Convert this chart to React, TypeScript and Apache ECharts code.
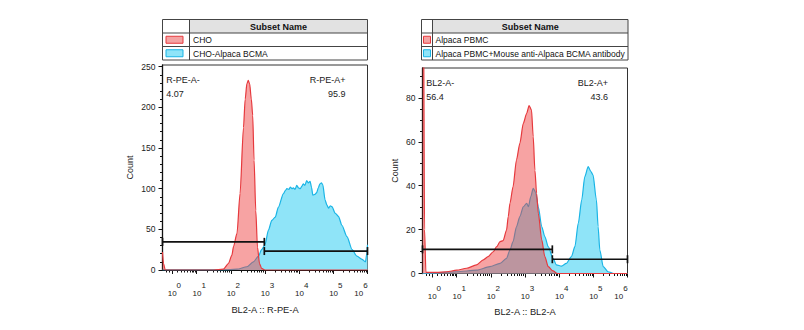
import React, { useEffect, useRef } from "react";
import * as echarts from "echarts";

const FONT = "'Liberation Sans', Arial, Helvetica, sans-serif";
const TEXT = "#222";

// ---- display-scale ticks (10^k at position k; logicle-compressed near zero)
const decadeExponents = ["0", "1", "2", "3", "4", "5", "6"];
const decadePositions = [0.275, 1, 2, 3, 4, 5, 6];
const lowMinorPositions = [0.1, 0.19, 0.42, 0.55, 0.65, 0.73, 0.8, 0.86, 0.91, 0.96];

const leftYTicks = [0, 50, 100, 150, 200, 250];
const leftYMinor = [10, 20, 30, 40, 60, 70, 80, 90, 110, 120, 130, 140, 160, 170, 180, 190, 210, 220, 230, 240];
const rightYTicks = [0, 20, 40, 60, 80];
const rightYMinor = [5, 10, 15, 25, 30, 35, 45, 50, 55, 65, 70, 75, 85, 90];

const xTitles = ["BL2-A :: R-PE-A", "BL2-A :: BL2-A"];
const yTitle = "Count";
const tableHeader = "Subset Name";
const leftNames = ["CHO", "CHO-Alpaca BCMA"];
const rightNames = ["Alpaca PBMC", "Alpaca PBMC+Mouse anti-Alpaca BCMA antibody"];

// ---- left panel histograms (x on display scale, y = count)
const choU = [0, 0.03, 0.08, 0.5, 1.0, 1.5, 1.78, 1.93, 2.03, 2.08, 2.18, 2.27, 2.37, 2.42, 2.47, 2.51, 2.55, 2.6, 2.64, 2.68, 2.73, 2.78, 2.84, 2.9, 3.0, 4.0, 5.0, 6.0];
const choCount = [22, 8, 0, 0, 0, 0, 1, 8, 18, 29, 45, 94, 175, 210, 229, 233, 229, 210, 190, 135, 73, 28, 8, 2, 0, 0, 0, 0];

const bcmaU = [0, 1.5, 1.78, 2.18, 2.47, 2.66, 2.81, 2.9, 3.0, 3.1, 3.2, 3.3, 3.39, 3.54, 3.6, 3.64, 3.7, 3.74, 3.79, 3.83, 3.88, 3.93, 3.98, 4.03, 4.08, 4.12, 4.17, 4.22, 4.27, 4.32, 4.36, 4.4, 4.46, 4.51, 4.56, 4.61, 4.65, 4.69, 4.76, 4.81, 4.86, 4.91, 4.96, 5.05, 5.15, 5.25, 5.4, 5.55, 5.69, 5.84, 5.94, 5.98, 6.0];
const bcmaCount = [0, 0, 0, 1, 4, 10, 17, 25, 31, 49, 61, 65, 77, 94, 98, 100, 99, 102, 100, 101, 99, 104, 101, 100, 103, 106, 104, 110, 107, 109, 102, 92, 93, 95, 101, 106, 107, 105, 86, 80, 76, 79, 78, 70, 66, 55, 41, 25, 17, 13, 10, 20, 31];

// ---- right panel histograms
const pbmcU = [0, 0.03, 0.06, 0.1, 0.4, 0.71, 1.0, 1.29, 1.58, 1.78, 1.92, 2.07, 2.17, 2.27, 2.36, 2.46, 2.51, 2.56, 2.65, 2.75, 2.85, 2.95, 3.05, 3.12, 3.19, 3.24, 3.29, 3.34, 3.39, 3.49, 3.58, 3.68, 3.82, 3.95, 6.0];
const pbmcCount = [200, 120, 20, 0.5, 0.5, 0.8, 1.5, 2.4, 3.9, 6.2, 7.7, 9.9, 12.2, 14.5, 15, 19.8, 25.9, 32, 39.5, 51.7, 59.3, 68.4, 73, 76.5, 74.5, 62.3, 47, 36.5, 27.4, 15.3, 7.7, 3.1, 1.2, 0, 0];

const antibodyU = [0, 0.1, 1.0, 1.58, 1.97, 2.27, 2.46, 2.56, 2.65, 2.75, 2.85, 2.95, 3.05, 3.1, 3.17, 3.24, 3.31, 3.39, 3.49, 3.58, 3.68, 3.82, 3.92, 4.07, 4.21, 4.36, 4.46, 4.56, 4.66, 4.75, 4.85, 4.93, 4.99, 5.09, 5.14, 5.19, 5.29, 5.43, 5.6, 6.0];
const antibodyCount = [0, 0, 0.8, 1.5, 3.1, 4.6, 6.9, 10.7, 14.5, 21.3, 25.9, 30.4, 32, 30.4, 35, 38.8, 37, 30.4, 21.3, 16.8, 12.2, 6.9, 3.9, 3.4, 4.6, 7.7, 12.2, 22.9, 33.5, 44.1, 48.7, 46.4, 44.9, 33.5, 21.3, 10.7, 3.1, 0.8, 0, 0];

// ---- gates
const leftGateNames = ["R-PE-A-", "R-PE-A+"];
const leftGatePct = ["4.07", "95.9"];
const leftGateFrom = [0, 2.98];
const leftGateTo = [2.98, 6];
const leftGateLevel = [34.6, 23.3];

const rightGateNames = ["BL2-A-", "BL2-A+"];
const rightGatePct = ["56.4", "43.6"];
const rightGateFrom = [0, 3.8];
const rightGateTo = [3.8, 6];
const rightGateLevel = [11.0, 6.5];

// colours
const RED_LINE = "#e6393d";
const RED_FILL = "rgba(238,62,62,0.48)";
const RED_SWATCH = "#f4a3a3";
const CYAN_LINE = "#19b4e5";
const CYAN_FILL = "#8fe4f8";

const zip = (xs: number[], ys: number[]) => xs.map((x, i) => [x, ys[i]]);

const decadeMinor: number[] = [];
for (let k = 1; k <= 5; k++) for (let m = 2; m <= 9; m++) decadeMinor.push(k + Math.log10(m));
const xMinor = [...lowMinorPositions, ...decadeMinor];

const labelFormatter = (v: number) => {
  const i = decadePositions.findIndex((p) => Math.abs(p - v) < 1e-6);
  if (i < 0) return "";
  const e = decadeExponents[i];
  return i === decadePositions.length - 1 ? `{a|10}{e|${e}}{t|}` : `{l|}{a|10}{e|${e}}`;
};

const panels = [
  { left: 162.5, top: 65, width: 205, height: 205, yMax: 252, yTicks: leftYTicks, yMinor: leftYMinor, title: xTitles[0], nameGapX: 35, nameGapY: 28 },
  { left: 422.5, top: 68, width: 205, height: 205.5, yMax: 93.6, yTicks: rightYTicks, yMinor: rightYMinor, title: xTitles[1], nameGapX: 33.5, nameGapY: 23 },
];

function buildAxes() {
  const xAxis: any[] = [];
  const yAxis: any[] = [];
  panels.forEach((p, gi) => {
    xAxis.push({
      type: "value", gridIndex: gi, min: 0, max: 6, position: "bottom",
      axisLine: { show: true, onZero: false, lineStyle: { color: "#111", width: 1 } },
      axisTick: { show: true, customValues: decadePositions, length: 4, lineStyle: { color: "#111" } },
      axisLabel: {
        show: true, customValues: decadePositions, formatter: labelFormatter, margin: 11, color: TEXT,
        rich: {
          a: { fontSize: 8, fontFamily: FONT, color: TEXT, verticalAlign: "bottom" },
          e: { fontSize: 8, fontFamily: FONT, color: TEXT, verticalAlign: "bottom", padding: [0, 0, 8, 0] },
          l: { width: 5 },
          t: { width: 13 },
        },
      },
      splitLine: { show: false },
      name: p.title, nameLocation: "middle", nameGap: p.nameGapX,
      nameTextStyle: { fontSize: 9.3, fontFamily: FONT, color: TEXT },
    });
    xAxis.push({
      type: "value", gridIndex: gi, min: 0, max: 6, position: "bottom",
      axisLine: { show: false, onZero: false },
      axisTick: { show: true, customValues: xMinor, length: 2.5, lineStyle: { color: "#111" } },
      axisLabel: { show: false },
      splitLine: { show: false },
    });
    yAxis.push({
      type: "value", gridIndex: gi, min: 0, max: p.yMax, position: "left",
      axisLine: { show: true, onZero: false, lineStyle: { color: "#111", width: 1.3 } },
      axisTick: { show: true, customValues: p.yTicks, length: 4, lineStyle: { color: "#111" } },
      axisLabel: { show: true, customValues: p.yTicks, margin: 7, fontSize: 8.5, fontFamily: FONT, color: TEXT },
      splitLine: { show: false },
      name: yTitle, nameLocation: "middle", nameGap: p.nameGapY, nameRotate: 90,
      nameTextStyle: { fontSize: 9, fontFamily: FONT, color: TEXT },
    });
    yAxis.push({
      type: "value", gridIndex: gi, min: 0, max: p.yMax, position: "left",
      axisLine: { show: false, onZero: false },
      axisTick: { show: true, customValues: p.yMinor, length: 2.5, lineStyle: { color: "#111" } },
      axisLabel: { show: false },
      splitLine: { show: false },
    });
  });
  return { xAxis, yAxis };
}

function histSeries(gi: number, name: string, data: number[][], red: boolean) {
  return {
    type: "line", name, xAxisIndex: gi * 2, yAxisIndex: gi * 2, data,
    symbol: "none", showSymbol: false, smooth: 0.25, smoothMonotone: "x",
    lineStyle: { color: red ? RED_LINE : CYAN_LINE, width: 1.2 },
    areaStyle: { color: red ? RED_FILL : CYAN_FILL, opacity: 1 },
    z: red ? 3 : 2, silent: true,
  };
}

function gateSeries(gi: number, from: number[], to: number[], level: number[]) {
  return {
    type: "custom", xAxisIndex: gi * 2, yAxisIndex: gi * 2, z: 10, silent: true, clip: false,
    data: from.map((f, i) => [f, to[i], level[i]]),
    encode: { x: [0, 1], y: 2 },
    renderItem: (_params: any, api: any) => {
      const a = api.coord([api.value(0), api.value(2)]);
      const b = api.coord([api.value(1), api.value(2)]);
      const st = { stroke: "#111", lineWidth: 1.7 };
      return {
        type: "group",
        children: [
          { type: "line", shape: { x1: a[0], y1: a[1], x2: b[0], y2: b[1] }, style: st },
          { type: "line", shape: { x1: a[0], y1: a[1] - 4, x2: a[0], y2: a[1] + 4 }, style: st },
          { type: "line", shape: { x1: b[0], y1: b[1] - 4, x2: b[0], y2: b[1] + 4 }, style: st },
        ],
      };
    },
  };
}

function legendTable(x0: number, x1: number, div: number, names: string[], swX: number, swW: number, swH: number, textX: number) {
  const rows = [19.5, 33, 46.5, 60];
  const els: any[] = [];
  els.push({ type: "rect", shape: { x: div, y: rows[0], width: x1 - div, height: rows[1] - rows[0] }, style: { fill: "#e2e2e2" } });
  els.push({ type: "rect", shape: { x: x0, y: rows[0], width: x1 - x0, height: rows[3] - rows[0] }, style: { fill: "none", stroke: "#444", lineWidth: 1 } });
  els.push({ type: "line", shape: { x1: x0, y1: rows[1], x2: x1, y2: rows[1] }, style: { stroke: "#444", lineWidth: 1 } });
  els.push({ type: "line", shape: { x1: x0, y1: rows[2], x2: x1, y2: rows[2] }, style: { stroke: "#444", lineWidth: 1 } });
  els.push({ type: "line", shape: { x1: div, y1: rows[0], x2: div, y2: rows[3] }, style: { stroke: "#444", lineWidth: 1 } });
  els.push({
    type: "text", x: (div + x1) / 2, y: (rows[0] + rows[1]) / 2 + 0.5,
    style: { text: tableHeader, fontSize: 9, fontWeight: "bold", fontFamily: FONT, fill: "#111", align: "center", verticalAlign: "middle" },
  });
  names.forEach((n, i) => {
    const cy = (rows[i + 1] + rows[i + 2]) / 2;
    const red = i === 0;
    els.push({
      type: "rect", shape: { x: swX, y: cy - swH / 2, width: swW, height: swH },
      style: { fill: red ? RED_SWATCH : CYAN_FILL, stroke: red ? RED_LINE : CYAN_LINE, lineWidth: 1 },
    });
    els.push({
      type: "text", x: textX, y: cy + 0.5,
      style: { text: n, fontSize: 8.5, fontFamily: FONT, fill: "#111", align: "left", verticalAlign: "middle" },
    });
  });
  return els;
}

function gateLabels(p: any, names: string[], pct: string[], rightInset: number) {
  const els: any[] = [];
  const xl = p.left + 3.7;
  const xr = p.left + p.width - rightInset;
  const y1 = p.top + 15;
  const y2 = p.top + 28.5;
  const st = { fontSize: 9, fontFamily: FONT, fill: TEXT, verticalAlign: "middle" };
  els.push({ type: "text", x: xl, y: y1, style: { ...st, text: names[0], align: "left" } });
  els.push({ type: "text", x: xl, y: y2, style: { ...st, text: pct[0], align: "left" } });
  els.push({ type: "text", x: xr, y: y1, style: { ...st, text: names[1], align: "right" } });
  els.push({ type: "text", x: xr, y: y2, style: { ...st, text: pct[1], align: "right" } });
  return els;
}

export default function App() {
  const ref = useRef<HTMLDivElement>(null);
  useEffect(() => {
    const chart = echarts.init(ref.current!, null, { renderer: "svg" });
    const { xAxis, yAxis } = buildAxes();
    const option: any = {
      animation: false,
      backgroundColor: "#fff",
      grid: panels.map((p) => ({
        left: p.left, top: p.top, width: p.width, height: p.height,
        show: true, borderColor: "#333", borderWidth: 1, backgroundColor: "transparent",
      })),
      xAxis,
      yAxis,
      series: [
        histSeries(0, leftNames[1], zip(bcmaU, bcmaCount), false),
        histSeries(0, leftNames[0], zip(choU, choCount), true),
        gateSeries(0, leftGateFrom, leftGateTo, leftGateLevel),
        histSeries(1, rightNames[1], zip(antibodyU, antibodyCount), false),
        histSeries(1, rightNames[0], zip(pbmcU, pbmcCount), true),
        gateSeries(1, rightGateFrom, rightGateTo, rightGateLevel),
      ],
      graphic: [
        ...legendTable(162.5, 367.5, 189.5, leftNames, 166, 17, 7, 193),
        ...legendTable(421.5, 628, 432.5, rightNames, 423.5, 7, 7, 435.5),
        ...gateLabels(panels[0], leftGateNames, leftGatePct, 22),
        ...gateLabels(panels[1], rightGateNames, rightGatePct, 19.5),
      ],
    };
    chart.setOption(option);
    return () => chart.dispose();
  }, []);
  return <div ref={ref} style={{ position: "absolute", left: 0, top: 0, width: 804, height: 330, background: "#fff" }} />;
}
